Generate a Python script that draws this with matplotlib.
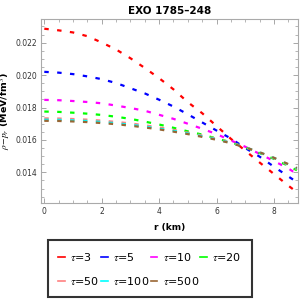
import numpy as np
import matplotlib
matplotlib.use("Agg")
import matplotlib.pyplot as plt
from matplotlib.ticker import MultipleLocator

# radius grid (km)
r = [0, 0.5, 1.0, 1.5, 2.0, 2.5, 3.0, 3.5, 4.0, 4.5, 5.0, 5.5, 6.0, 6.5, 7.0, 7.5, 8.0, 8.5, 8.8]

# rho - p_r (MeV/fm^3)
tau3 = [0.02286, 0.02276, 0.02263, 0.02240, 0.02201, 0.02158, 0.02104, 0.02044, 0.01981, 0.01912,
        0.01833, 0.01765, 0.01686, 0.01607, 0.01534, 0.01461, 0.01390, 0.01318, 0.01278]
tau5 = [0.02020, 0.02015, 0.02006, 0.01992, 0.01975, 0.01951, 0.01919, 0.01887, 0.01848, 0.01806,
        0.01758, 0.01708, 0.01658, 0.01609, 0.01550, 0.01497, 0.01435, 0.01375, 0.01340]
tau10 = [0.01847, 0.01845, 0.01840, 0.01834, 0.01826, 0.01812, 0.01797, 0.01780, 0.01755, 0.01730,
         0.01700, 0.01669, 0.01636, 0.01597, 0.01558, 0.01514, 0.01470, 0.01424, 0.01390]
tau20 = [0.01775, 0.01773, 0.01768, 0.01762, 0.01754, 0.01743, 0.01730, 0.01713, 0.01695, 0.01675,
         0.01653, 0.01633, 0.01609, 0.01586, 0.01554, 0.01519, 0.01483, 0.01440, 0.01413]
tau50 = [0.01733, 0.01732, 0.01729, 0.01725, 0.01719, 0.01711, 0.01702, 0.01690, 0.01677, 0.01662,
         0.01645, 0.01627, 0.01607, 0.01584, 0.01556, 0.01522, 0.01487, 0.01446, 0.01420]
tau100 = [0.01725, 0.01724, 0.01721, 0.01717, 0.01711, 0.01703, 0.01694, 0.01683, 0.01670, 0.01656,
          0.01640, 0.01623, 0.01604, 0.01582, 0.01555, 0.01523, 0.01489, 0.01449, 0.01424]
tau500 = [0.01718, 0.01717, 0.01714, 0.01710, 0.01704, 0.01697, 0.01688, 0.01677, 0.01665, 0.01651,
          0.01636, 0.01619, 0.01601, 0.01580, 0.01554, 0.01524, 0.01490, 0.01451, 0.01427]

series = [tau3, tau5, tau10, tau20, tau50, tau100, tau500]
labels = [r"$\tau$=3", r"$\tau$=5", r"$\tau$=10", r"$\tau$=20", r"$\tau$=50", r"$\tau$=100", r"$\tau$=500"]
colors = ["#ff0000", "#0000ff", "#ff00ff", "#00ff00", "#ff8080", "#00ffff", "#996633"]

plt.rcParams["mathtext.fontset"] = "stix"

fig = plt.figure(figsize=(3, 3), dpi=100)
ax = fig.add_axes([0.1357, 0.3223, 0.8587, 0.6133])

lines = []
for y, lab, c in zip(series, labels, colors):
    ln, = ax.plot(r, y, color=c, lw=1.6, linestyle=(0, (2.0, 3.8)), label=lab)
    lines.append(ln)

ax.set_xlim(-0.125, 8.85)
ax.set_ylim(0.01209, 0.02344)
ax.xaxis.set_major_locator(MultipleLocator(2))
ax.xaxis.set_minor_locator(MultipleLocator(0.5))
ax.yaxis.set_major_locator(MultipleLocator(0.002))
ax.yaxis.set_minor_locator(MultipleLocator(0.0005))
ax.yaxis.set_major_formatter(plt.FuncFormatter(lambda v, p: "%.3f" % v))

ax.tick_params(which="both", direction="in", top=True, right=True, color="#999999",
               labelsize=5.5, labelcolor="#333333", pad=2.5)
ax.tick_params(which="major", length=3.5, width=0.6)
ax.tick_params(which="minor", length=2, width=0.5)
for s in ax.spines.values():
    s.set_color("#aaaaaa")
    s.set_linewidth(0.8)

ax.set_title("EXO 1785\u2013248", fontsize=7.5, fontweight="bold", pad=4)
ax.set_xlabel("r (km)", fontsize=6.5, fontweight="bold", labelpad=5)
ax.set_ylabel(r"$\rho\!-\!p_r$ (MeV/fm$^3$)", fontsize=6.8, fontweight="bold")
ax.yaxis.set_label_coords(-0.11, 0.5)

# legend fills column by column, so order handles to get rows 3,5,10,20 / 50,100,500
order = [0, 4, 1, 5, 2, 6, 3]
leg = fig.legend(handles=[lines[i] for i in order], loc="upper center", ncol=4,
                 bbox_to_anchor=(0.5, 0.2), borderaxespad=0, fontsize=8,
                 handlelength=0.6, handletextpad=0.5, columnspacing=0.1,
                 frameon=True, fancybox=False, borderpad=0.95, labelspacing=1.1)
leg.get_frame().set_edgecolor("black")
leg.get_frame().set_linewidth(1.5)
for h in leg.legend_handles:
    h.set_linestyle("-")
    h.set_linewidth(1.2)

fig.savefig("out.png", dpi=100)
